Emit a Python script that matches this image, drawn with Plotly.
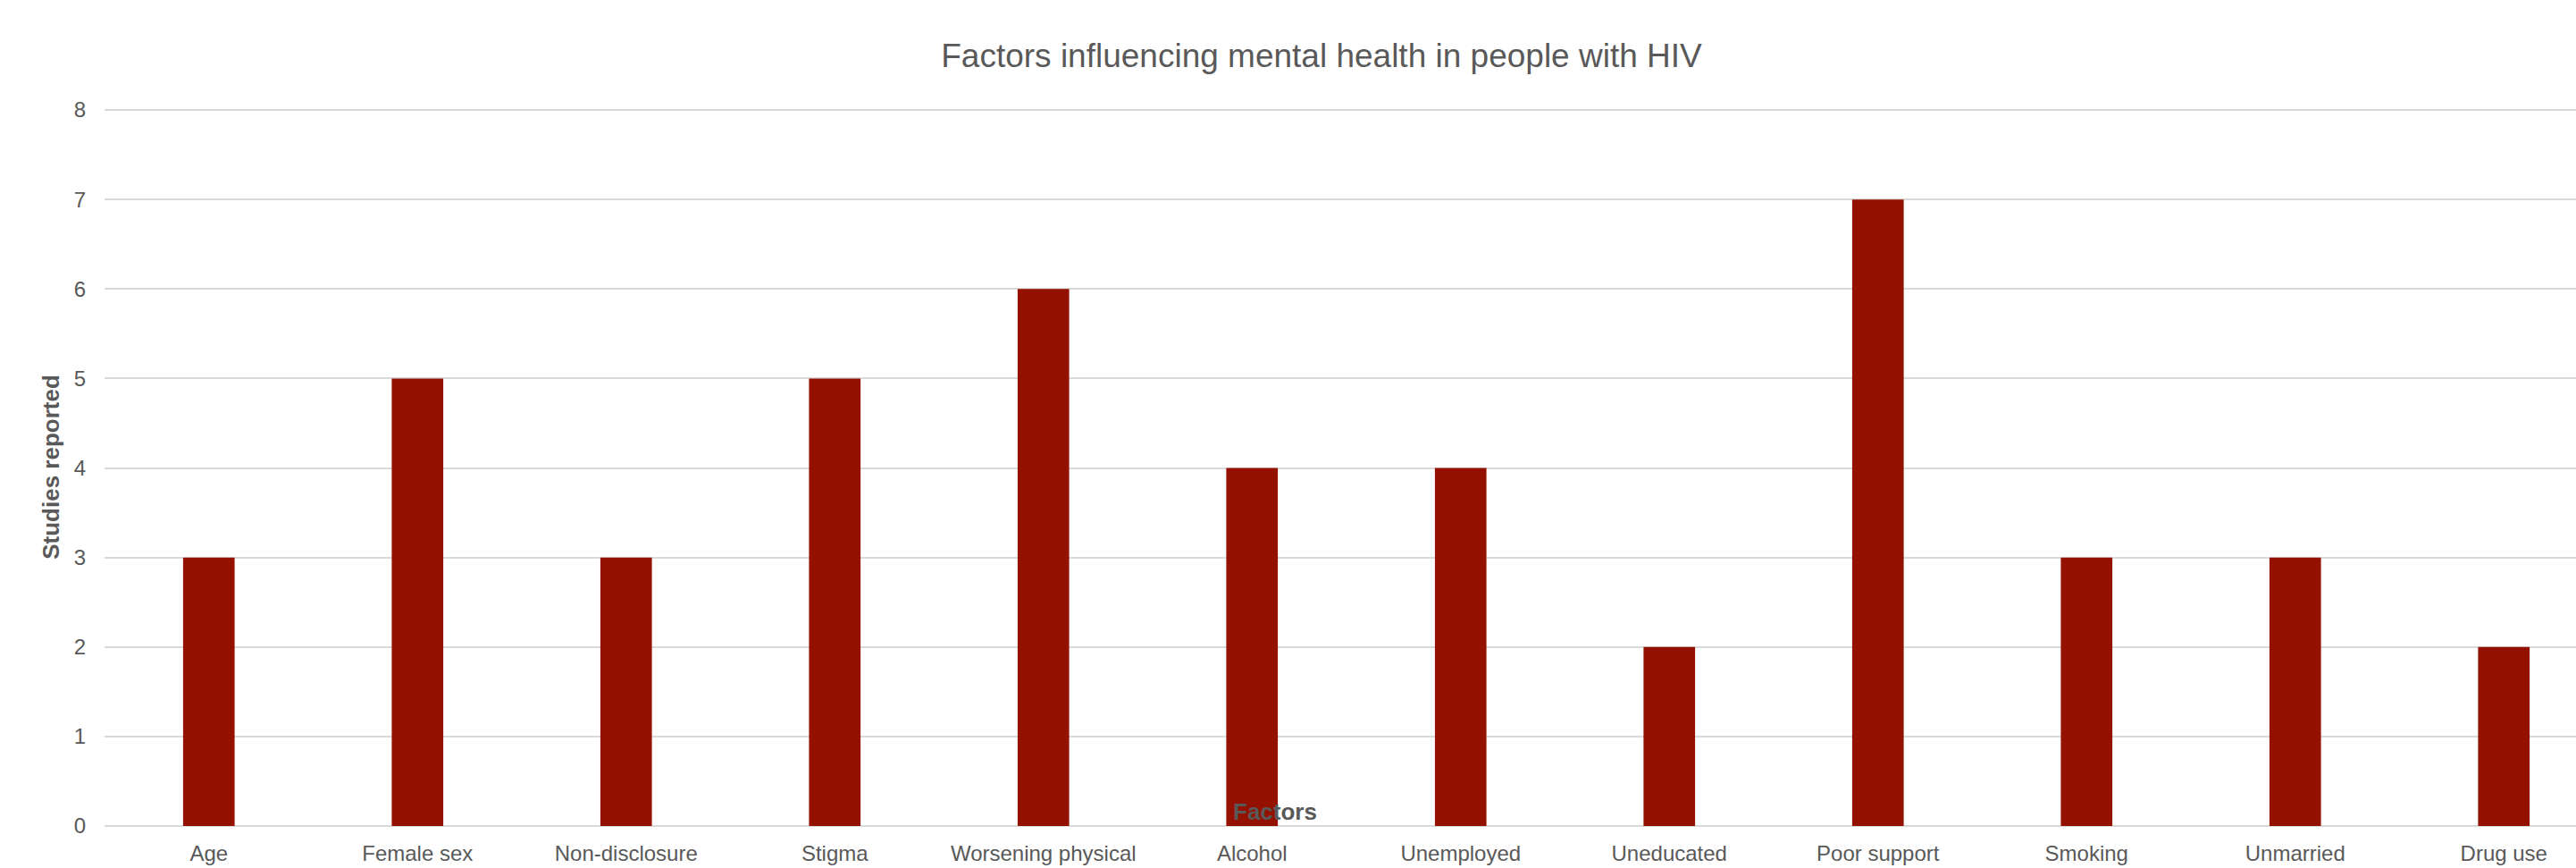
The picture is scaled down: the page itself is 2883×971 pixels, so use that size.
import plotly.graph_objects as go

categories = ["Age", "Female sex", "Non-disclosure", "Stigma", "Worsening physical",
              "Alcohol", "Unemployed", "Uneducated", "Poor support", "Smoking",
              "Unmarried", "Drug use"]
studies = [3, 5, 3, 5, 6, 4, 4, 2, 7, 3, 3, 2]
y_ticks = [0, 1, 2, 3, 4, 5, 6, 7, 8]

W, H = 2883, 971
L, R, T, B = 117, 0, 121, 47
TXT = "#595959"
FONT = "Arial, Liberation Sans, sans-serif"

fig = go.Figure()
fig.add_trace(go.Bar(
    x=categories, y=studies,
    marker=dict(color="#941100", line=dict(width=0)),
    width=0.247,
    hoverinfo="x+y",
))

fig.update_layout(
    width=W, height=H,
    margin=dict(l=L, r=R, t=T, b=B, autoexpand=False),
    paper_bgcolor="white", plot_bgcolor="white",
    showlegend=False,
    font=dict(family=FONT, color=TXT, size=24),
    title=dict(
        text="Factors influencing mental health in people with HIV",
        font=dict(family=FONT, size=37, color=TXT),
        xref="container", yref="container",
        x=1479 / W, xanchor="center",
        y=1 - 62 / H, yanchor="middle",
    ),
    xaxis=dict(
        type="category",
        range=[-0.5, -0.5 + (W - L - R) / 233.5],
        showgrid=False, zeroline=False, showline=False,
        ticks="", ticklabelstandoff=14,
        tickfont=dict(family=FONT, size=24, color=TXT),
        automargin=False,
        fixedrange=True,
    ),
    yaxis=dict(
        range=[0, 8.02],
        tickvals=y_ticks,
        showgrid=True, gridcolor="#d9d9d9", gridwidth=2,
        zeroline=True, zerolinecolor="#d9d9d9", zerolinewidth=2,
        showline=False, ticks="",
        ticklabelstandoff=20,
        tickfont=dict(family=FONT, size=24, color=TXT),
        title=dict(text="<b>Studies reported</b>", standoff=8,
                   font=dict(family=FONT, size=26, color=TXT)),
        automargin=False,
        fixedrange=True,
    ),
    annotations=[
        dict(
            text="<b>Factors</b>",
            xref="paper", yref="paper",
            x=(1426.5 - L) / (W - L - R), xanchor="center",
            y=(H - B - 907.5) / (H - T - B), yanchor="middle",
            showarrow=False,
            font=dict(family=FONT, size=26, color=TXT),
        )
    ],
)

fig.write_html("out.html")
